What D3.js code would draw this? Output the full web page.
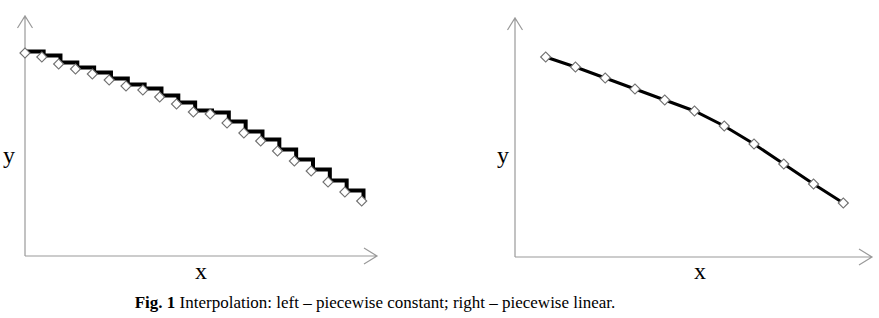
<!DOCTYPE html>
<html>
<head>
<meta charset="utf-8">
<script src="https://cdn.jsdelivr.net/npm/d3@7"></script>
<style>
  body { margin: 0; background: #fff; }
</style>
</head>
<body>
<div id="chart-container"></div>
<script>
// Left: piecewise constant samples (21 points), right: piecewise linear samples (11 points)
const leftX = d3.range(21);
const leftY = [203, 199, 192, 187, 182, 176, 170, 166, 159, 152, 144, 142, 133, 123, 115, 105, 95, 85, 74, 64, 55];
const rightX = d3.range(11);
const rightY = [200, 190, 179, 168, 157, 146, 131, 113, 93, 73, 54];

const captionBold = "Fig. 1";
const captionText = " Interpolation: left – piecewise constant; right – piecewise linear.";

const width = 879, height = 318;

const svg = d3.select("#chart-container")
    .append("svg")
    .attr("width", width)
    .attr("height", height)
    .style("font-family", "'Liberation Serif', serif");

function drawPanel(opts) {
    const g = svg.append("g");
    const x = d3.scaleLinear().domain(opts.xDomain).range(opts.xRange);
    const y = d3.scaleLinear().domain([0, 240]).range([opts.origin[1], opts.origin[1] - 240]);

    // axes (open arrowheads)
    const ox = opts.origin[0], oy = opts.origin[1];
    const axisColor = "#9a9a9a";
    g.append("path")
        .attr("d", `M${ox},${oy}V${opts.top} M${ox - 7.5},${opts.top + 12}L${ox},${opts.top}L${ox + 7.5},${opts.top + 12}`)
        .attr("fill", "none").attr("stroke", axisColor).attr("stroke-width", 1.2);
    g.append("path")
        .attr("d", `M${ox},${oy}H${opts.right} M${opts.right - 13},${oy - 8}L${opts.right},${oy}L${opts.right - 13},${oy + 8}`)
        .attr("fill", "none").attr("stroke", axisColor).attr("stroke-width", 1.2);

    const pts = opts.xs.map((d, i) => ({ x: d, y: opts.ys[i] }));

    const line = d3.line()
        .x(d => x(d.x))
        .y(d => y(d.y))
        .curve(opts.curve);

    g.append("path")
        .datum(pts)
        .attr("d", line)
        .attr("transform", opts.lineShift)
        .attr("fill", "none")
        .attr("stroke", "#000")
        .attr("stroke-width", opts.lineWidth)
        .attr("stroke-linejoin", "miter");

    const sym = d3.symbol().type(d3.symbolSquare).size(50);
    g.selectAll(".pt")
        .data(pts)
        .enter()
        .append("path")
        .attr("class", "pt")
        .attr("d", sym)
        .attr("transform", d => `translate(${x(d.x)},${y(d.y)}) rotate(45)`)
        .attr("fill", "#fff")
        .attr("stroke", "#707070")
        .attr("stroke-width", 1.2);

    g.append("text")
        .attr("x", opts.yLabel[0]).attr("y", opts.yLabel[1])
        .style("font-size", "24px")
        .text("y");
    g.append("text")
        .attr("x", opts.xLabel[0]).attr("y", opts.xLabel[1])
        .attr("text-anchor", "middle")
        .style("font-size", "24px")
        .text("x");
}

drawPanel({
    xs: leftX, ys: leftY,
    xDomain: [0, 20], xRange: [25, 361.7],
    origin: [25, 256], top: 16, right: 377,
    curve: d3.curveStepAfter, lineWidth: 4, lineShift: "translate(1.8,-1.5)",
    yLabel: [3, 163], xLabel: [201, 279]
});

drawPanel({
    xs: rightX, ys: rightY,
    xDomain: [0, 10], xRange: [545.7, 843.3],
    origin: [515, 257], top: 18, right: 872,
    curve: d3.curveLinear, lineWidth: 3, lineShift: null,
    yLabel: [497, 163], xLabel: [700, 279]
});

// caption
const cap = svg.append("text")
    .attr("x", 375).attr("y", 308)
    .attr("text-anchor", "middle")
    .style("font-size", "17px");
cap.append("tspan").style("font-weight", "bold").text(captionBold);
cap.append("tspan").text(captionText);
</script>
</body>
</html>
